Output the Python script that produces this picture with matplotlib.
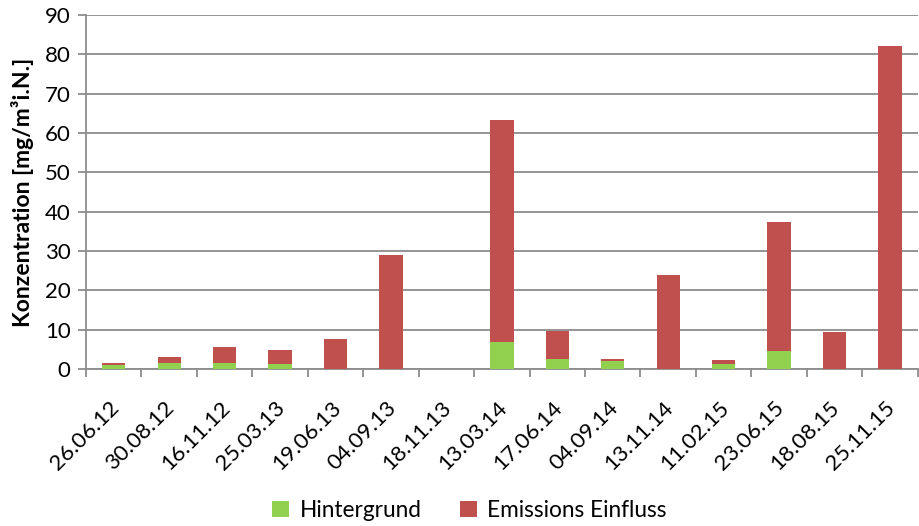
import numpy as np
import matplotlib.pyplot as plt
import matplotlib.transforms as mtransforms

dates = ['26.06.12', '30.08.12', '16.11.12', '25.03.13', '19.06.13', '04.09.13', '18.11.13',
         '13.03.14', '17.06.14', '04.09.14', '13.11.14', '11.02.15', '23.06.15', '18.08.15', '25.11.15']
hintergrund = [1.1, 1.45, 1.5, 1.3, 0, 0, 0, 6.8, 2.6, 2.0, 0, 1.25, 4.6, 0, 0]
gesamt = [1.45, 3.05, 5.6, 4.85, 7.55, 28.9, 0, 63.3, 9.75, 2.55, 23.9, 2.3, 37.3, 9.4, 82.0]
emission = [g - h for g, h in zip(gesamt, hintergrund)]

plt.rcParams['font.family'] = ['Lato', 'DejaVu Sans']

fig = plt.figure(figsize=(9.19, 5.26), dpi=100)
ax = fig.add_axes([0.0936, 0.2985, 0.905, 0.673])

x = np.arange(len(dates))
ax.bar(x, hintergrund, width=0.42, color='#92D050', label='Hintergrund', zorder=3)
ax.bar(x, emission, width=0.42, bottom=hintergrund, color='#C0504D',
       label='Emissions Einfluss', zorder=3)

ax.set_xlim(-0.5, len(dates) - 0.5)
ax.set_ylim(0, 90)
ax.set_yticks(np.arange(0, 91, 10))
ax.yaxis.grid(True, color='#8C8C8C', linewidth=1.3, zorder=0)

ax.set_xticks(x)
ax.set_xticklabels(dates, rotation=45, ha='right', rotation_mode='anchor', fontsize=16)
ax.set_xticks(np.arange(-0.5, len(dates)), minor=True)
ax.tick_params(axis='x', which='major', length=0, pad=17)
ax.tick_params(axis='x', which='minor', length=6, color='#8C8C8C', width=1.3)
ax.tick_params(axis='y', length=6, color='#8C8C8C', width=1.3, labelsize=16, pad=5)

# shift the rotated date labels a bit left and down
shift = mtransforms.ScaledTranslation(-5 / 100, -5 / 100, fig.dpi_scale_trans)
for lbl in ax.get_xticklabels():
    lbl.set_transform(lbl.get_transform() + shift)

for s in ['top', 'right']:
    ax.spines[s].set_visible(False)
for s in ['left', 'bottom']:
    ax.spines[s].set_color('#8C8C8C')
    ax.spines[s].set_linewidth(1.3)

ax.set_ylabel('Konzentration [mg/m³i.N.]', fontsize=16.5, fontweight='bold', labelpad=8)

fig.legend(loc='center', bbox_to_anchor=(0.511, 0.03), ncol=2, frameon=False,
           fontsize=16.3, handlelength=0.75, handleheight=0.75, columnspacing=1.7,
           handletextpad=0.45, borderpad=0)

fig.savefig('out.png', dpi=100)
